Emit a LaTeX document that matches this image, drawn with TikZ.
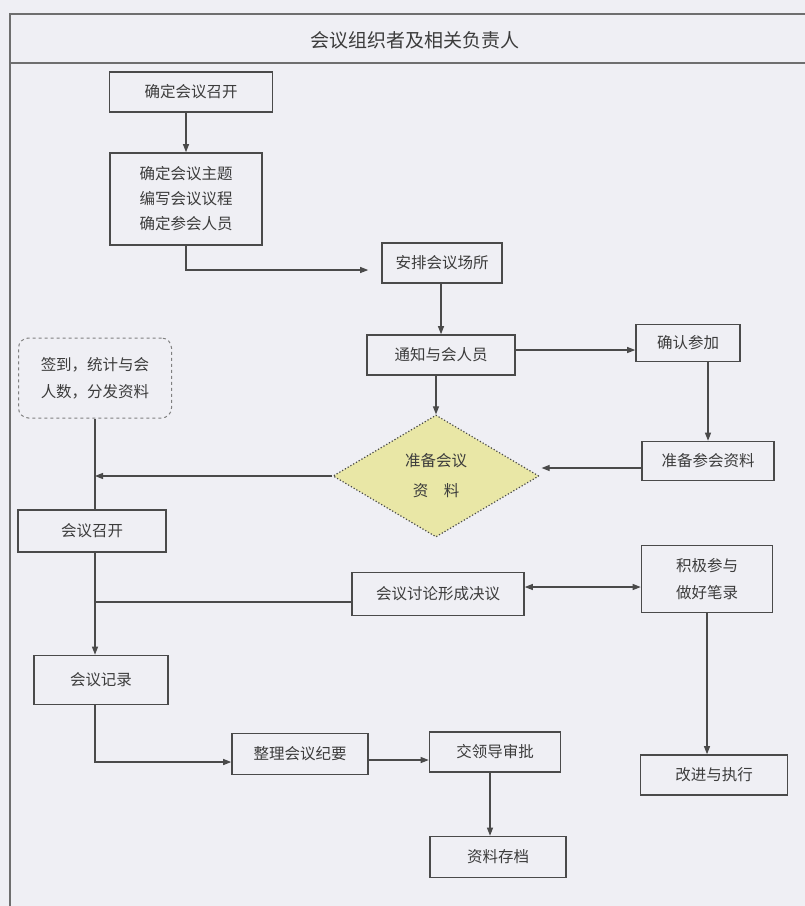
\documentclass[tikz,border=0pt]{standalone}
\usepackage{fontspec}
\setmainfont{Noto Sans CJK SC}
\usetikzlibrary{arrows.meta,shapes.geometric,calc}
\definecolor{bg}{HTML}{EFEFF4}
\definecolor{ln}{HTML}{4A4A4A}
\definecolor{tx}{HTML}{3C3C3C}
\definecolor{dia}{HTML}{E9E7A6}
\begin{document}
\begin{tikzpicture}[x=1pt,y=-1pt,
  box/.style={draw=ln,line width=1.6pt,fill=bg,text=tx,font=\fontsize{15.5}{25}\selectfont,align=center,inner sep=2pt},
  arr/.style={draw=ln,line width=1.1pt,-{Triangle[length=8pt,width=6pt]}},
  con/.style={draw=ln,line width=1.1pt},
  frame/.style={draw=ln!80,line width=1.2pt}]
\fill[bg] (0,0) rectangle (805,906);
\useasboundingbox (0,0) rectangle (805,906);
\draw[frame] (10,906) -- (10,14) -- (805,14);
\draw[frame] (10,63) -- (805,63);
\node[text=tx,font=\fontsize{19}{22}\selectfont] (title) at (415,40) {会议组织者及相关负责人};

\node[box,minimum width=163pt,minimum height=40pt] (b1) at (191,92) {确定会议召开};
\node[box,minimum width=152pt,minimum height=92pt] (b2) at (186,199) {确定会议主题\\编写会议议程\\确定参会人员};
\node[box,minimum width=120pt,minimum height=40pt] (b3) at (442,263) {安排会议场所};
\node[box,minimum width=148pt,minimum height=40pt] (b4) at (441,355) {通知与会人员};
\node[box,minimum width=104pt,minimum height=37pt] (b5) at (688,343) {确认参加};
\node[box,draw=ln!70,line width=1pt,dashed,rounded corners=10pt,minimum width=153pt,minimum height=80pt,font=\fontsize{15.5}{27}\selectfont] (b6) at (95,378) {签到，统计与会\\人数，分发资料};
\node[diamond,draw=ln,line width=1.2pt,dotted,fill=dia,text=tx,font=\fontsize{15.5}{30}\selectfont,align=center,minimum width=206pt,minimum height=122pt,inner sep=0pt] (d) at (436,476) {准备会议\\资\quad 料};
\node[box,minimum width=132pt,minimum height=39pt] (b8) at (708,461) {准备参会资料};
\node[box,minimum width=148pt,minimum height=42pt] (b9) at (92,531) {会议召开};
\node[box,minimum width=131pt,minimum height=67pt,font=\fontsize{15.5}{27}\selectfont] (b10) at (707,579) {积极参与\\做好笔录};
\node[box,minimum width=172pt,minimum height=43pt] (b11) at (438,594) {会议讨论形成决议};
\node[box,minimum width=134pt,minimum height=49pt] (b12) at (101,680) {会议记录};
\node[box,minimum width=136pt,minimum height=41pt] (b13) at (300,754) {整理会议纪要};
\node[box,minimum width=131pt,minimum height=40pt] (b14) at (495,752) {交领导审批};
\node[box,minimum width=147pt,minimum height=40pt] (b15) at (714,775) {改进与执行};
\node[box,minimum width=136pt,minimum height=41pt] (b16) at (498,857) {资料存档};

\draw[arr] (b2.north |- b1.south) -- (b2.north);
\draw[arr,shorten >=13pt] (b2.south) |- ([yshift=-7pt]b3.west);
\draw[arr] (b4.north |- b3.south) -- (b4.north);
\draw[arr] ([yshift=5pt]b4.east) -- ([yshift=5pt]b4.east -| b5.west);
\draw[arr] (d.north |- b4.south) -- (d.north);
\draw[arr] (b8.north |- b5.south) -- (b8.north);
\draw[arr,shorten >=2pt] ([yshift=-7pt]b8.west) -- ([yshift=-7pt]b8.west -| d.east);
\draw[con] (b6.south) -- (b6.south |- b9.north);
\draw[arr] (d.west) -- (d.west -| b6.south);
\draw[arr] (b6.south |- b9.south) -- (b6.south |- b12.north);
\draw[con] ([yshift=-8pt]b11.west) -- ([yshift=-8pt]b11.west -| b6.south);
\draw[arr,{Triangle[length=8pt,width=6pt]}-{Triangle[length=8pt,width=6pt]}] ([yshift=7pt]b11.east) -- ([yshift=7pt]b11.east -| b10.west);
\draw[arr] (b10.south) -- (b10.south |- b15.north);
\draw[arr] (b6.south |- b12.south) |- ([yshift=-8pt]b13.west);
\draw[arr] ([yshift=-6pt]b13.east) -- ([yshift=-6pt]b13.east -| b14.west);
\draw[arr] ([xshift=-5pt]b14.south) -- ([xshift=-5pt]b14.south |- b16.north);
\end{tikzpicture}
\end{document}
